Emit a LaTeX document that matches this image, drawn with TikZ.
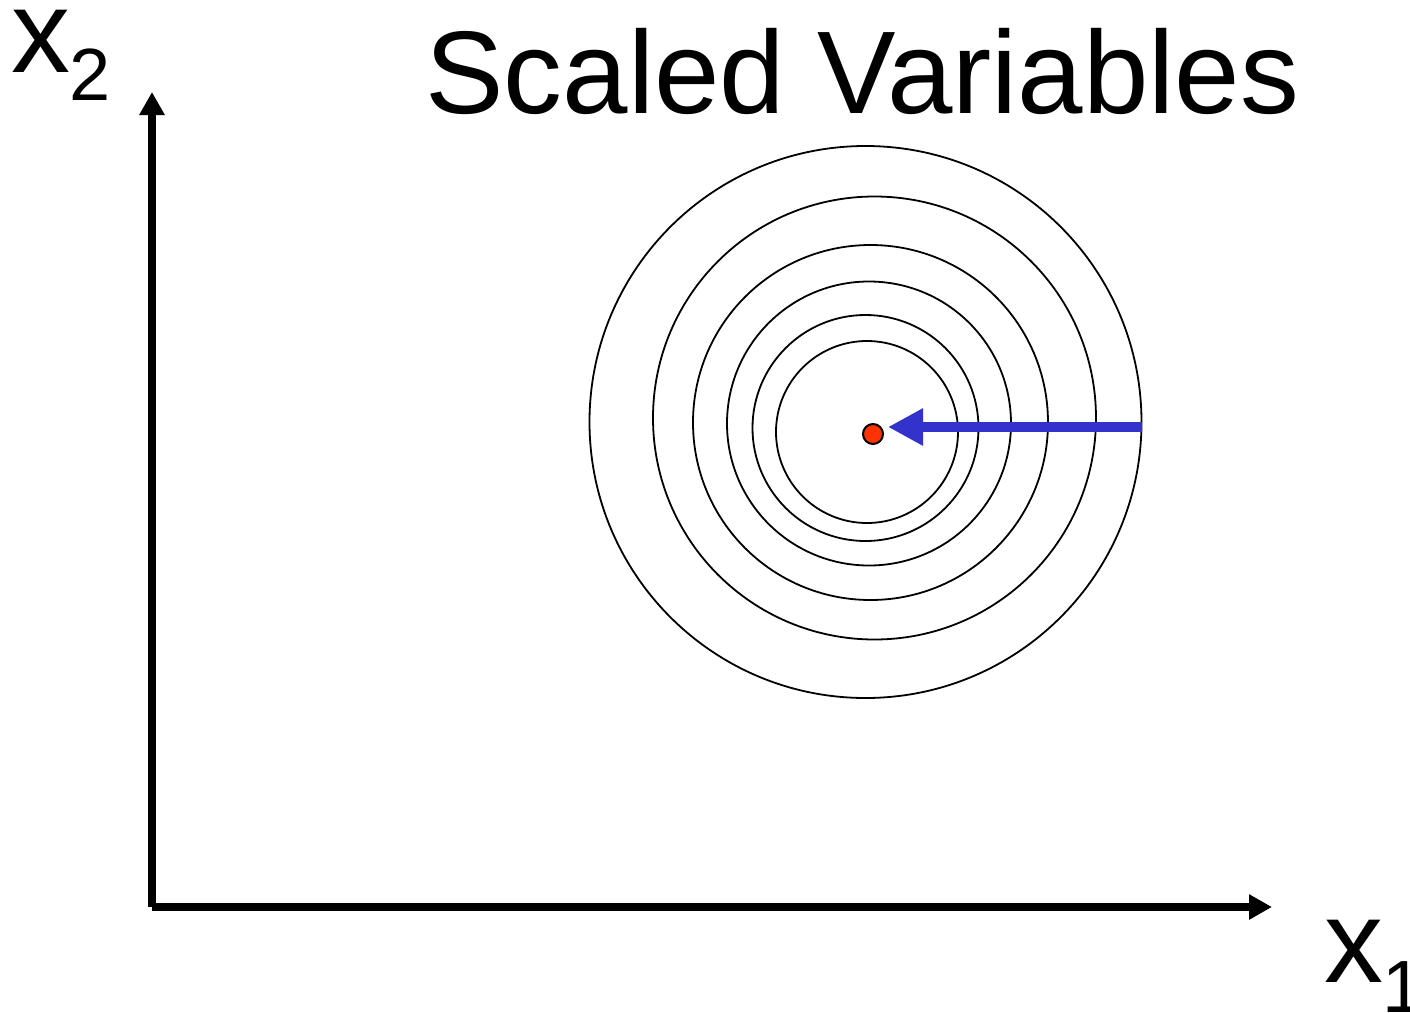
\documentclass[tikz,border=0pt]{standalone}
\usepackage{fontspec}
\setmainfont{Liberation Sans}
\usetikzlibrary{arrows.meta}
\definecolor{dotred}{HTML}{FF3300}
\definecolor{arrowblue}{HTML}{3333CC}
\begin{document}
\begin{tikzpicture}[x=0.5pt,y=-0.5pt,
  axis/.style={line width=4pt,-{Triangle[length=11.5pt,width=12pt]}},
  contour/.style={line width=0.9pt},
  pointer/.style={line width=5pt,arrowblue,-{Triangle[length=17.5pt,width=17.5pt]}},
  lbl/.style={inner sep=0pt,anchor=base west}]
\useasboundingbox[fill=white] (0,0) rectangle (1410,1013);
% axes
\coordinate (o) at (152,907);
\coordinate (ytop) at (152,92);
\coordinate (xend) at (1272,907);
\draw[axis] (o) -- (ytop);
\draw[axis] (o) -- (xend);
% contours
\draw[contour] (865.5,422) circle[radius=276];
\draw[contour] (874.5,418) circle[radius=221.5];
\draw[contour] (870.5,422.5) circle[radius=177.5];
\draw[contour] (869,423.5) circle[radius=142];
\draw[contour] (865.5,428) circle[radius=113];
\draw[contour] (867,432) circle[radius=91];
% minimum point
\node[circle,draw=black,line width=1pt,fill=dotred,minimum size=10pt,inner sep=0pt] (dot) at (873,434) {};
\coordinate (start) at (1142,427);
\coordinate (tip) at (888,427);
\draw[pointer] (start) -- (tip);
% labels
\node[lbl,font=\fontsize{58.8}{60}\selectfont] (title) at (425,113) {Scaled Variables};
\node[lbl,font=\fontsize{59}{60}\selectfont] (x2) at (11,72) {x};
\node[lbl,font=\fontsize{37}{40}\selectfont] (s2) at (69,100) {2};
\node[lbl,font=\fontsize{59}{60}\selectfont] (x1) at (1324,982) {x};
\node[lbl,font=\fontsize{37}{40}\selectfont] (s1) at (1382,1012) {1};
\end{tikzpicture}
\end{document}
